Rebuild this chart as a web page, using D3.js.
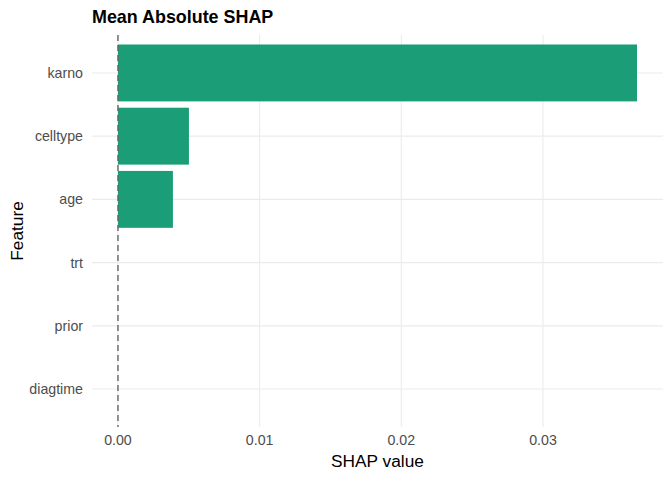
<!DOCTYPE html>
<html><head><meta charset="utf-8">
<script src="https://cdn.jsdelivr.net/npm/d3@7"></script>
<style>body{margin:0;background:#fff;}svg{display:block;font-family:"Liberation Sans",Arial,sans-serif;}</style>
</head><body><svg id="c" width="672" height="480"></svg>
<script>
const features = ["karno","celltype","age","trt","prior","diagtime"];
const meanAbsShap = [0.03664, 0.00501, 0.00388, 0, 0, 0];
const xTicks = [0, 0.01, 0.02, 0.03];
const xTickLabels = ["0.00","0.01","0.02","0.03"];

const W = 672, H = 480;
const m = {left: 92, right: 9, top: 35, bottom: 53};
const svg = d3.select("#c");
const maxV = d3.max(meanAbsShap);
const pad = maxV * 0.05;
const x = d3.scaleLinear().domain([0 - pad, maxV + pad]).range([m.left, W - m.right]);
// ggplot discrete: expand 0.6, width 0.9
const y = d3.scalePoint().domain(features).range([m.top, H - m.bottom]).padding(0.6);
const step = y.step();

// major gridlines
svg.append("g").selectAll("line").data(xTicks).join("line")
  .attr("x1", d => x(d)).attr("x2", d => x(d))
  .attr("y1", m.top).attr("y2", H - m.bottom)
  .attr("stroke", "#ebebeb").attr("stroke-width", 1.1);
svg.append("g").selectAll("line").data(features).join("line")
  .attr("x1", m.left).attr("x2", W - m.right)
  .attr("y1", d => y(d)).attr("y2", d => y(d))
  .attr("stroke", "#ebebeb").attr("stroke-width", 1.1);

// bars
const bw = step * 0.9;
svg.append("g").selectAll("rect").data(features.map((f, i) => ({f, v: meanAbsShap[i]}))).join("rect")
  .attr("x", d => x(0)).attr("width", d => x(d.v) - x(0))
  .attr("y", d => y(d.f) - bw / 2).attr("height", bw)
  .attr("fill", "#1b9e77");

// dashed zero line
svg.append("line")
  .attr("x1", x(0)).attr("x2", x(0)).attr("y1", m.top).attr("y2", H - m.bottom)
  .attr("stroke", "#666").attr("stroke-width", 1.4).attr("stroke-dasharray", "6,4");

// x tick labels
svg.append("g").selectAll("text").data(xTicks).join("text")
  .attr("x", d => x(d)).attr("y", 445)
  .attr("text-anchor", "middle").attr("font-size", 14.2).attr("fill", "#4d4d4d")
  .text((d, i) => xTickLabels[i]);
// y tick labels
svg.append("g").selectAll("text").data(features).join("text")
  .attr("x", 83).attr("y", d => y(d)).attr("dy", "0.35em")
  .attr("text-anchor", "end").attr("font-size", 14.2).attr("fill", "#4d4d4d")
  .text(d => d);

// axis titles
svg.append("text").attr("x", (m.left + W - m.right) / 2).attr("y", 467)
  .attr("text-anchor", "middle").attr("font-size", 17.3).attr("fill", "#000").text("SHAP value");
svg.append("text").attr("transform", `translate(22.5,${(m.top + H - m.bottom) / 2}) rotate(-90)`)
  .attr("text-anchor", "middle").attr("font-size", 17.3).attr("fill", "#000").text("Feature");
// title
svg.append("text").attr("x", 92).attr("y", 23)
  .attr("font-size", 17.9).attr("font-weight", "bold").attr("fill", "#000").text("Mean Absolute SHAP");
</script></body></html>
